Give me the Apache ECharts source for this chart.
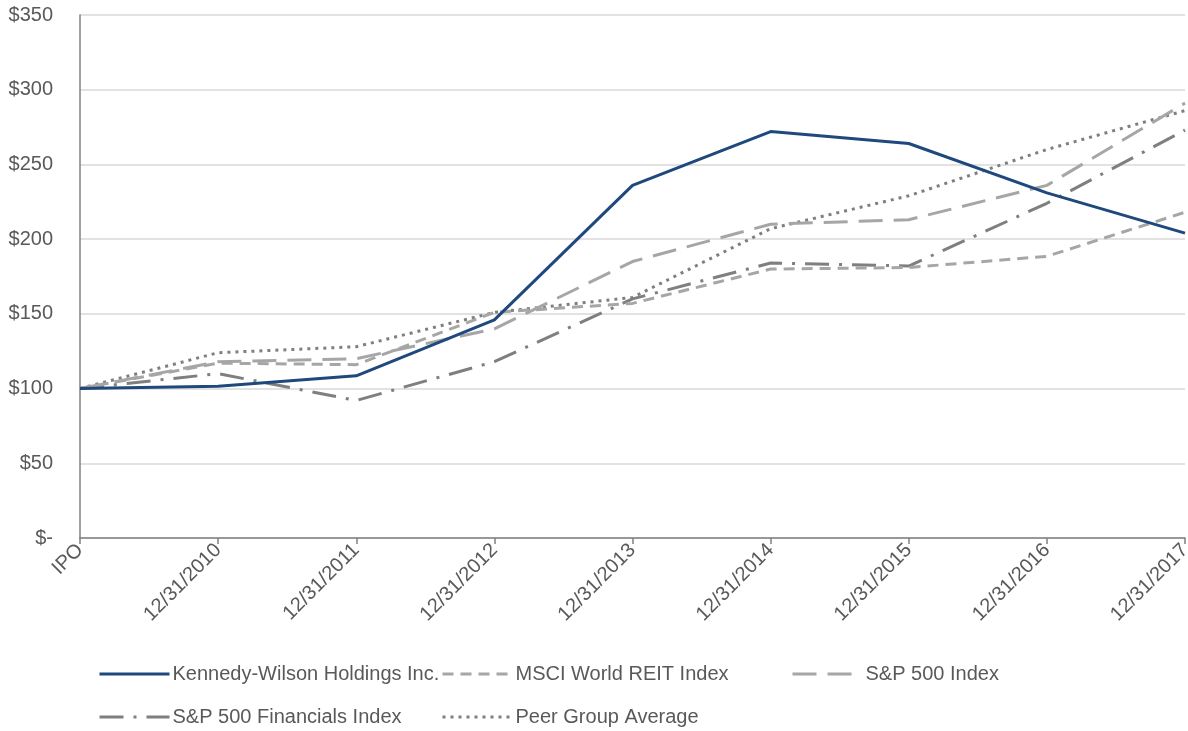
<!DOCTYPE html>
<html>
<head>
<meta charset="utf-8">
<script src="https://cdn.jsdelivr.net/npm/echarts@6/dist/echarts.min.js"></script>
<style>
html,body{margin:0;padding:0;background:#fff;}
#chart{width:1188px;height:731px;}
</style>
</head>
<body>
<div id="chart"></div>
<script>
const categories = ['IPO','12/31/2010','12/31/2011','12/31/2012','12/31/2013','12/31/2014','12/31/2015','12/31/2016','12/31/2017'];
const kennedyWilson = [100, 101.5, 108.5, 146, 236, 272, 264, 231, 204];
const msciReit = [100, 117, 116, 151, 157, 180, 181, 188.5, 218];
const sp500 = [100, 118, 120, 140, 185, 210, 213, 236, 291];
const sp500Fin = [100, 110, 92, 118, 160, 184, 182, 224, 273];
const peerAvg = [100, 124, 128, 151, 161, 207, 229, 260, 286];
const yTicks = {min: 0, max: 350, interval: 50};

const font = 'Liberation Sans, Arial, sans-serif';
const txt = '#595959';

const styles = {
  'Kennedy-Wilson Holdings Inc.': {color: '#1f497d', type: 'solid'},
  'MSCI World REIT Index': {color: '#a6a6a6', type: [11, 7]},
  'S&P 500 Index': {color: '#a6a6a6', type: [24, 11]},
  'S&P 500 Financials Index': {color: '#7f7f7f', type: [24, 10, 3, 10]},
  'Peer Group Average': {color: '#7f7f7f', type: [3, 5]}
};

const chart = echarts.init(document.getElementById('chart'));
function mk(name, data) {
  const s = styles[name];
  return {
    name, type: 'line', data, symbol: 'none', smooth: false,
    lineStyle: {color: s.color, width: 3, type: s.type, cap: 'butt', join: 'round'},
    itemStyle: {color: s.color},
    emphasis: {disabled: true}
  };
}
function lg(name, left, top) {
  const s = styles[name];
  return {
    left, top, padding: 0, orient: 'horizontal', itemWidth: 70, itemHeight: 14, itemGap: 10,
    selectedMode: false,
    textStyle: {color: txt, fontSize: 20, fontFamily: font, padding: [0, 0, 0, -2]},
    itemStyle: {opacity: 0},
    lineStyle: {color: s.color, width: 3, type: s.type, cap: 'butt'},
    data: [{name,
      itemStyle: {opacity: 0},
      lineStyle: {color: s.color, width: 3, type: s.type, cap: 'butt'}}]
  };
}
chart.setOption({
  animation: false,
  backgroundColor: '#fff',
  grid: {left: 80, right: 3, top: 15, bottom: 193, outerBoundsMode: 'none', containLabel: false},
  legend: [
    lg('Kennedy-Wilson Holdings Inc.', 98, 664),
    lg('MSCI World REIT Index', 441, 664),
    lg('S&P 500 Index', 791, 664),
    lg('S&P 500 Financials Index', 98, 707),
    lg('Peer Group Average', 441, 707)
  ],
  xAxis: {
    type: 'category', data: categories, boundaryGap: false,
    axisLine: {lineStyle: {color: '#808080', width: 1.5}},
    axisTick: {show: true, length: 6, lineStyle: {color: '#808080', width: 1.5}},
    axisLabel: {rotate: 45, color: txt, fontSize: 20, fontFamily: font, margin: 9, interval: 0},
    splitLine: {show: false}
  },
  yAxis: {
    type: 'value', min: yTicks.min, max: yTicks.max, interval: yTicks.interval,
    axisLine: {show: true, lineStyle: {color: '#808080', width: 1.5}},
    axisTick: {show: false},
    axisLabel: {color: txt, fontSize: 20, fontFamily: font, margin: 27,
      formatter: v => v === 0 ? '$-' : '$' + v},
    splitLine: {lineStyle: {color: '#d9d9d9', width: 1.5}}
  },
  series: [
    mk('Peer Group Average', peerAvg),
    mk('S&P 500 Financials Index', sp500Fin),
    mk('S&P 500 Index', sp500),
    mk('MSCI World REIT Index', msciReit),
    mk('Kennedy-Wilson Holdings Inc.', kennedyWilson)
  ]
});
</script>
</body>
</html>
